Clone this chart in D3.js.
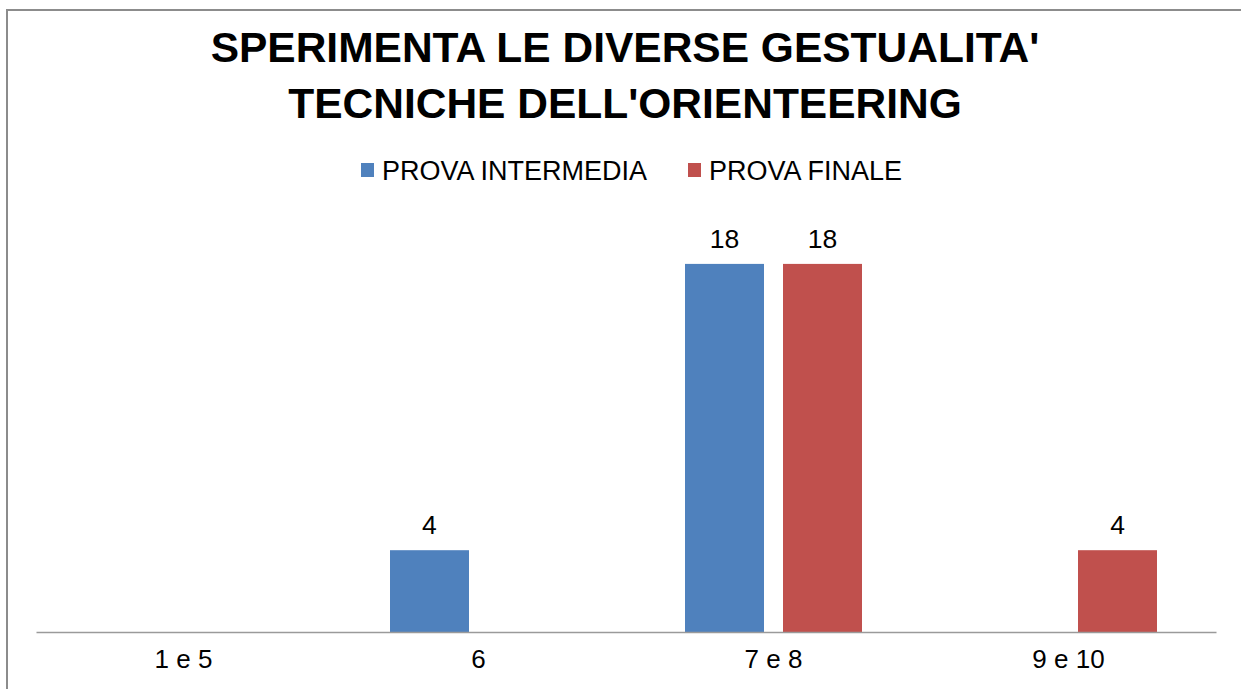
<!DOCTYPE html>
<html>
<head>
<meta charset="utf-8">
<script src="https://cdn.jsdelivr.net/npm/d3@7"></script>
<style>
  body { margin: 0; background: #fff; }
  svg { display: block; font-family: "Liberation Sans", Arial, sans-serif; }
</style>
</head>
<body>
<svg width="1241" height="689"></svg>
<script>
// data
var categories = ["1 e 5", "6", "7 e 8", "9 e 10"];
var seriesNames = ["PROVA INTERMEDIA", "PROVA FINALE"];
var intermedia = [0, 4, 18, 0];
var finale = [0, 0, 18, 4];
var titleLines = ["SPERIMENTA LE DIVERSE GESTUALITA'", "TECNICHE DELL'ORIENTEERING"];
var colors = ["#4F81BD", "#C0504D"];

var values = [intermedia, finale];

var svg = d3.select("svg");

// chart border
svg.append("rect")
      .attr("x", 7)
      .attr("y", 10)
      .attr("width", 1260)
      .attr("height", 700)
      .attr("fill", "#fff")
      .attr("stroke", "#8c8c8c")
      .attr("stroke-width", 2);

var left = 36, right = 1216, baseY = 632;

var x0 = d3.scaleBand()
      .domain(categories)
      .range([left, right]);

var x1 = d3.scaleBand()
      .domain(seriesNames)
      .range([x0.bandwidth() * 0.2, x0.bandwidth() * 0.8])
      .paddingInner(0.194);

var y = d3.scaleLinear()
      .domain([0, 20])
      .range([baseY, 223]);

// title
svg.append("g")
      .selectAll("text")
      .data(titleLines)
      .enter()
      .append("text")
      .attr("x", 625)
      .attr("y", (d, i) => 62 + i * 56)
      .attr("text-anchor", "middle")
      .attr("font-size", "42.5px")
      .attr("font-weight", "bold")
      .text(d => d);

// legend
var legendX = [361, 688];
var legend = svg.append("g")
      .selectAll("g")
      .data(seriesNames)
      .enter()
      .append("g")
      .attr("transform", (d, i) => "translate(" + legendX[i] + ",0)");
legend.append("rect")
      .attr("x", 0)
      .attr("y", 163)
      .attr("width", 13)
      .attr("height", 14)
      .attr("fill", (d, i) => colors[i]);
legend.append("text")
      .attr("x", 21)
      .attr("y", 180)
      .attr("font-size", "27px")
      .text(d => d);

// bars
var groups = svg.append("g")
      .selectAll("g")
      .data(categories)
      .enter()
      .append("g")
      .attr("transform", d => "translate(" + x0(d) + ",0)");

var cells = groups.selectAll("g")
      .data((d, ci) => seriesNames.map((s, si) => ({ s: s, si: si, v: values[si][ci] })))
      .enter()
      .append("g");

cells.append("rect")
      .attr("x", d => x1(d.s))
      .attr("y", d => y(d.v))
      .attr("width", x1.bandwidth())
      .attr("height", d => y(0) - y(d.v))
      .attr("fill", d => colors[d.si]);

cells.filter(d => d.v > 0)
      .append("text")
      .attr("x", d => x1(d.s) + x1.bandwidth() / 2)
      .attr("y", d => y(d.v) - 16)
      .attr("text-anchor", "middle")
      .attr("font-size", "26.5px")
      .attr("fill", "#000")
      .text(d => d.v);

// x axis
var xAxis = d3.axisBottom(x0).tickSize(0).tickPadding(0);
var axisG = svg.append("g")
      .attr("transform", "translate(0," + baseY + ")")
      .call(xAxis);
axisG.select(".domain")
      .attr("stroke", "#9a9a9a")
      .attr("stroke-width", 1.5);
axisG.selectAll("text")
      .attr("y", 36)
      .attr("dy", null)
      .attr("font-size", "26px")
      .attr("font-family", "Liberation Sans, Arial, sans-serif")
      .attr("fill", "#000");
</script>
</body>
</html>
